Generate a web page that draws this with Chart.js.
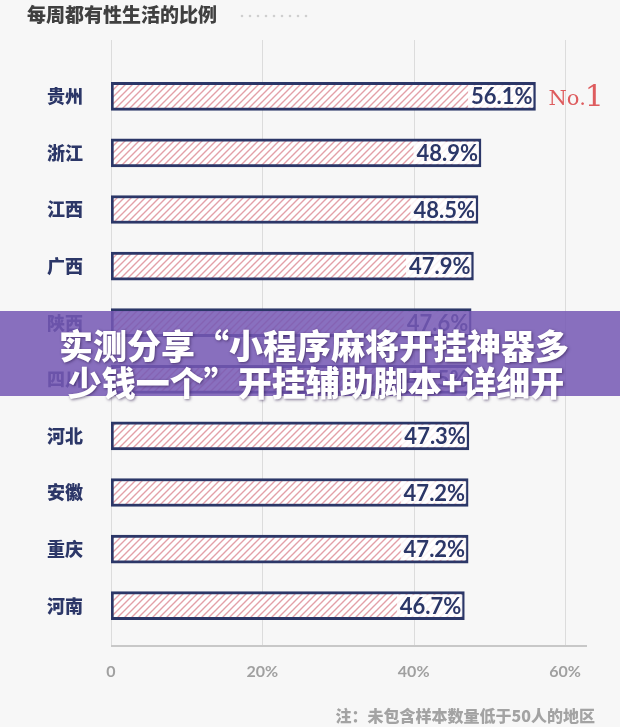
<!DOCTYPE html>
<html>
<head>
<meta charset="utf-8">
<script src="https://cdn.jsdelivr.net/npm/chart.js@4"></script>
<style>
  html, body { margin: 0; padding: 0; background: #f7f7f7; }
  #wrap { width: 620px; height: 727px; position: relative; }
</style>
</head>
<body>
<div id="wrap"><canvas id="chart"></canvas></div>
<script>
// data
const regions = ['贵州', '浙江', '江西', '广西', '陕西', '四川', '河北', '安徽', '重庆', '河南'];
const shares = [56.1, 48.9, 48.5, 47.9, 47.6, 47.5, 47.3, 47.2, 47.2, 46.7];
const xTicks = [0, 20, 40, 60];
const titleText = '每周都有性生活的比例';
const noteText = '注：未包含样本数量低于50人的地区';
const bannerLines = ['实测分享“小程序麻将开挂神器多', '少钱一个”开挂辅助脚本+详细开'];

const NAVY = '#2c3768';
const CJK = '"Noto Sans CJK SC", "Noto Sans", sans-serif';

// diagonal red hatch for bar fill
function makeHatch(ctx) {
  const c = document.createElement('canvas');
  c.width = 7; c.height = 7;
  const g = c.getContext('2d');
  g.fillStyle = '#ffffff';
  g.fillRect(0, 0, 7, 7);
  g.strokeStyle = '#e3a0a8';
  g.lineWidth = 1.4;
  g.beginPath();
  g.moveTo(-1, 8); g.lineTo(8, -1);
  g.moveTo(-2, 2); g.lineTo(2, -2);
  g.moveTo(5, 9); g.lineTo(9, 5);
  g.stroke();
  return ctx.createPattern(c, 'repeat');
}

const decor = {
  id: 'decor',
  beforeDraw(chart) {
    const { ctx, scales: { x }, chartArea } = chart;
    ctx.save();
    ctx.fillStyle = '#f7f7f7';
    ctx.fillRect(0, 0, chart.width, chart.height);

    // title + dotted rule
    ctx.fillStyle = '#404040';
    ctx.font = '900 19px ' + CJK;
    ctx.textBaseline = 'middle';
    ctx.fillText(titleText, 27, 15);
    ctx.fillStyle = '#cfcfcf';
    for (let px = 242; px < 310; px += 8) {
      ctx.beginPath(); ctx.arc(px, 16, 1.3, 0, Math.PI * 2); ctx.fill();
    }

    // vertical grid
    ctx.strokeStyle = '#dcdcdc';
    ctx.lineWidth = 1;
    xTicks.forEach(v => {
      const px = Math.round(x.getPixelForValue(v)) + 0.5;
      ctx.beginPath(); ctx.moveTo(px, 40); ctx.lineTo(px, chartArea.bottom + 12); ctx.stroke();
    });

    // bottom axis line
    ctx.strokeStyle = '#c8c8c8';
    ctx.lineWidth = 2;
    ctx.beginPath();
    ctx.moveTo(chartArea.left, chartArea.bottom + 12);
    ctx.lineTo(chartArea.right + 22, chartArea.bottom + 12);
    ctx.stroke();
    ctx.restore();
  },
  afterDatasetsDraw(chart) {
    const { ctx } = chart;
    const bars = chart.getDatasetMeta(0).data;
    ctx.save();
    ctx.font = 'bold 22px Lato, "Noto Sans", sans-serif';
    ctx.textBaseline = 'middle';
    ctx.textAlign = 'right';
    bars.forEach((bar, i) => {
      const label = shares[i].toFixed(1) + '%';
      const w = ctx.measureText(label).width;
      ctx.fillStyle = 'rgba(255,255,255,0.85)';
      ctx.fillRect(bar.x - w - 6, bar.y - 11, w + 4, 22);
      ctx.fillStyle = NAVY;
      ctx.fillText(label, bar.x - 3, bar.y + 1);
    });
    // No.1 marker next to the top bar
    const top = bars[0];
    ctx.textAlign = 'left';
    ctx.textBaseline = 'alphabetic';
    ctx.fillStyle = '#de5c5e';
    ctx.font = '21px "DejaVu Serif", "Liberation Serif", serif';
    ctx.fillText('No.', top.x + 13, top.y + 9);
    const nw = ctx.measureText('No.').width;
    ctx.font = '30px "DejaVu Serif", "Liberation Serif", serif';
    ctx.fillText('1', top.x + 12 + nw, top.y + 10);
    ctx.restore();
  },
  afterDraw(chart) {
    const { ctx } = chart;
    ctx.save();
    // footnote
    ctx.fillStyle = '#a3a3a3';
    ctx.font = '900 16px ' + CJK;
    ctx.textAlign = 'right';
    ctx.textBaseline = 'middle';
    ctx.fillText(noteText, 595, 716);

    // purple overlay banner
    ctx.fillStyle = 'rgba(118, 88, 180, 0.86)';
    ctx.fillRect(0, 311, chart.width, 85);
    ctx.fillStyle = '#ffffff';
    ctx.font = '900 34px ' + CJK;
    ctx.textAlign = 'center';
    ctx.shadowColor = 'rgba(40, 20, 70, 0.6)';
    ctx.shadowBlur = 3;
    ctx.shadowOffsetX = 1;
    ctx.shadowOffsetY = 1;
    ctx.fillText(bannerLines[0], 314, 346);
    ctx.fillText(bannerLines[1], 316, 383);
    ctx.restore();
  }
};

const canvas = document.getElementById('chart');
const hatch = makeHatch(canvas.getContext('2d'));

new Chart(canvas, {
  type: 'bar',
  data: {
    labels: regions,
    datasets: [{
      data: shares,
      backgroundColor: hatch,
      borderColor: NAVY,
      borderWidth: 3,
      borderSkipped: false,
      barThickness: 28
    }]
  },
  options: {
    indexAxis: 'y',
    responsive: true,
    maintainAspectRatio: false,
    animation: false,
    layout: { padding: { top: 68, right: 55, left: 0, bottom: 0 } },
    plugins: {
      legend: { display: false },
      tooltip: { enabled: false }
    },
    scales: {
      x: {
        min: 0,
        max: 60,
        afterFit: s => { s.height = 93; },
        afterBuildTicks: s => { s.ticks = xTicks.map(v => ({ value: v })); },
        grid: { display: false },
        border: { display: false },
        ticks: {
          padding: 20,
          color: '#a0a0a0',
          font: { family: 'Lato, "Noto Sans", sans-serif', size: 16, weight: 'bold' },
          callback: v => v === 0 ? '0' : v + '%'
        }
      },
      y: {
        afterFit: s => { s.width = 111; },
        grid: { display: false },
        border: { display: false },
        ticks: {
          padding: 20,
          color: NAVY,
          font: { family: CJK, size: 18, weight: '900' }
        }
      }
    }
  },
  plugins: [decor]
});
</script>
</body>
</html>
